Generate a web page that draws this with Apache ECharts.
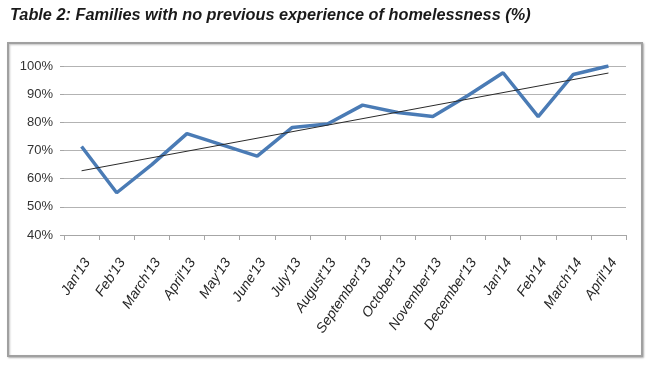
<!DOCTYPE html>
<html>
<head>
<meta charset="utf-8">
<script src="https://cdn.jsdelivr.net/npm/echarts@6/dist/echarts.min.js"></script>
<style>
html,body{margin:0;padding:0;background:#fff;}
#chart{width:650px;height:365px;}
</style>
</head>
<body>
<div id="chart"></div>
<script>
const titleText = "Table 2: Families with no previous experience of homelessness (%)";
const categories = ["Jan'13","Feb'13","March'13","April'13","May'13","June'13","July'13","August'13","September'13","October'13","November'13","December'13","Jan'14","Feb'14","March'14","April'14"];
const values = [71.4, 55, 65, 76, 72, 68, 78.2, 79.4, 86.1, 83.5, 82.1, 89.5, 97.6, 82, 97, 100];
const trendEnds = [62.8, 97.5];
const yTicks = [40, 50, 60, 70, 80, 90, 100];

const chart = echarts.init(document.getElementById('chart'), null, {renderer: 'canvas'});
chart.setOption({
  animation: false,
  backgroundColor: '#ffffff',
  title: {
    text: titleText,
    left: 5, top: 3,
    textStyle: {fontFamily: 'Liberation Sans, Arial, sans-serif', fontSize: 16.3, fontWeight: 'bold', fontStyle: 'italic', color: '#1a1a1a'}
  },
  graphic: [{
    type: 'rect', silent: true, z: -1,
    shape: {x: 8, y: 43, width: 634, height: 313},
    style: {fill: '#ffffff', stroke: '#a0a0a0', lineWidth: 2, shadowBlur: 2, shadowColor: 'rgba(0,0,0,0.25)', shadowOffsetX: 1, shadowOffsetY: 1}
  }],
  grid: {left: 64, right: 24, top: 66, bottom: 130, containLabel: false},
  xAxis: {
    type: 'category',
    data: categories,
    boundaryGap: true,
    axisLine: {show: true, lineStyle: {color: '#a6a6a6', width: 1}},
    axisTick: {show: true, length: 5, interval: 0, lineStyle: {color: '#a6a6a6'}},
    axisLabel: {interval: 0, rotate: 56, margin: 21, align: 'right', verticalAlign: 'top', fontFamily: 'Liberation Sans, Arial, sans-serif', fontSize: 14, fontStyle: 'italic', color: '#262626'},
    splitLine: {show: false}
  },
  yAxis: {
    type: 'value',
    min: yTicks[0], max: yTicks[yTicks.length - 1], interval: 10,
    axisLine: {show: false},
    axisTick: {show: true, length: 4, lineStyle: {color: '#a6a6a6'}},
    axisLabel: {margin: 11, formatter: '{value}%', fontFamily: 'Liberation Sans, Arial, sans-serif', fontSize: 13, color: '#333'},
    splitLine: {show: true, lineStyle: {color: '#b3b3b3', width: 1}}
  },
  series: [{
    type: 'line',
    data: values,
    symbol: 'none',
    lineStyle: {color: '#4a7bb5', width: 3.5},
    itemStyle: {color: '#4a7bb5'},
    z: 3,
    markLine: {
      silent: true,
      symbol: ['none', 'none'],
      label: {show: false},
      lineStyle: {color: '#2a2a2a', width: 1, type: 'solid'},
      data: [[{coord: [categories[0], trendEnds[0]]}, {coord: [categories[categories.length - 1], trendEnds[1]]}]]
    }
  }]
});
</script>
</body>
</html>
